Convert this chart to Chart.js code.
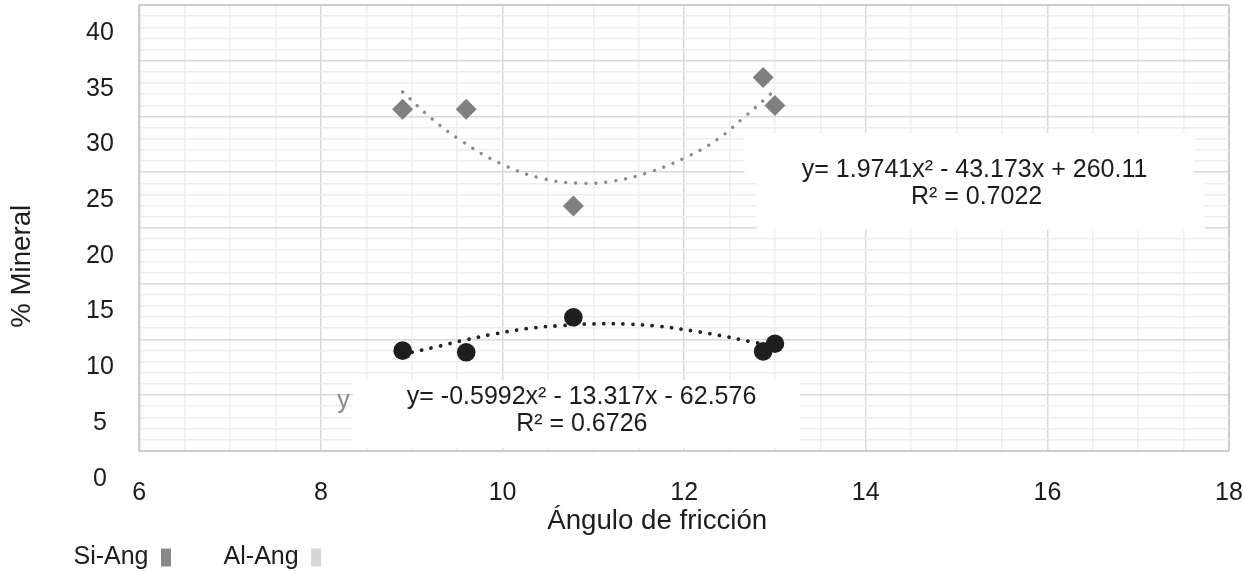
<!DOCTYPE html>
<html>
<head>
<meta charset="utf-8">
<script src="https://cdn.jsdelivr.net/npm/chart.js@4/dist/chart.umd.min.js"></script>
<style>
html,body{margin:0;padding:0;background:#ffffff;}
#wrap{width:1244px;height:571px;position:relative;}
</style>
</head>
<body>
<div id="wrap"><canvas id="c" width="1244" height="571"></canvas></div>
<script>
// ---------- data ----------
const seriesNames = ['Si-Ang', 'Al-Ang'];

const siAngX = [8.9, 9.6, 10.78, 12.87, 13.0];
const siAngY = [30.65, 30.65, 21.97, 33.5, 30.97];

const alAngX = [8.9, 9.6, 10.78, 12.87, 13.0];
const alAngY = [8.98, 8.83, 11.97, 8.91, 9.6];

// dotted polynomial trend lines
const siTrendX = [8.9, 9.22, 9.53, 9.97, 10.45, 10.89, 11.22, 11.62, 12.01, 12.36, 12.67, 12.91, 13.0];
const siTrendY = [32.2, 29.8, 27.9, 25.8, 24.4, 24.0, 24.2, 25.0, 26.3, 27.9, 30.0, 31.7, 32.4];

const alTrendX = [8.9, 9.31, 9.6, 9.9, 10.26, 10.63, 11.0, 11.36, 11.73, 12.1, 12.39, 12.72, 12.95];
const alTrendY = [8.65, 9.4, 9.96, 10.46, 10.95, 11.22, 11.38, 11.37, 11.16, 10.75, 10.35, 9.81, 9.5];

const xTickLabels = [6, 8, 10, 12, 14, 16, 18];
const yTickLabels = [0, 5, 10, 15, 20, 25, 30, 35, 40];

const eqSi = ['y= 1.9741x\u00B2 - 43.173x + 260.11', 'R\u00B2 = 0.7022'];
const eqAl = ['y= -0.5992x\u00B2 - 13.317x - 62.576', 'R\u00B2 = 0.6726'];
const strayLabel = 'y';

const xTitle = '\u00C1ngulo de fricci\u00F3n';
const yTitle = '% Mineral';

// ---------- helpers / styles ----------
const FONT = '"Liberation Sans", Arial, Helvetica, sans-serif';
const TXT = '#1c1c1c';
const GRID_MAJOR = '#d9d9d9';
const GRID_MINOR = '#eeeeee';
const BORDER = '#cdcdcd';

const toPts = (xs, ys) => xs.map((v, i) => ({x: v, y: ys[i]}));

// label boxes in data units: [xMin, xMax, yMin, yMax]
const whiteBoxes = [
  [12.666, 17.611, 24.02, 28.51],
  [12.798, 17.732, 19.81, 24.03],
  [8.352, 13.272, 0.25, 6.345]
];
const labelTexts = [
  {t: eqSi[0], x: 15.198, y: 25.19, c: TXT},
  {t: eqSi[1], x: 15.22, y: 22.77, c: TXT},
  {t: eqAl[0], x: 10.87, y: 4.82, c: TXT},
  {t: eqAl[1], x: 10.873, y: 2.40, c: TXT},
  {t: strayLabel, x: 8.248, y: 4.46, c: '#8a8a8a'}
];

const eqPlugin = {
  id: 'eqLabels',
  beforeDatasetsDraw(chart) {
    const {ctx} = chart;
    const xs = chart.scales.x, ys = chart.scales.y;
    ctx.save();
    ctx.fillStyle = '#ffffff';
    whiteBoxes.forEach(b => {
      const x0 = xs.getPixelForValue(b[0]), x1 = xs.getPixelForValue(b[1]);
      const y0 = ys.getPixelForValue(b[2]), y1 = ys.getPixelForValue(b[3]);
      ctx.fillRect(x0, y1, x1 - x0, y0 - y1);
    });
    ctx.font = '25px ' + FONT;
    ctx.textAlign = 'center';
    ctx.textBaseline = 'middle';
    labelTexts.forEach(l => {
      ctx.fillStyle = l.c;
      ctx.fillText(l.t, xs.getPixelForValue(l.x), ys.getPixelForValue(l.y));
    });
    ctx.restore();
  }
};

const isMajorX = v => xTickLabels.includes(v);
const isMajorY = v => yTickLabels.includes(v);

new Chart(document.getElementById('c'), {
  type: 'scatter',
  data: {
    datasets: [
      {
        label: seriesNames[0],
        data: toPts(siAngX, siAngY),
        pointStyle: 'rectRot',
        pointRadius: 10.5,
        pointHoverRadius: 10.5,
        backgroundColor: '#808080',
        borderWidth: 0,
        showLine: false
      },
      {
        label: seriesNames[1],
        data: toPts(alAngX, alAngY),
        pointStyle: 'circle',
        pointRadius: 9.3,
        pointHoverRadius: 9.3,
        backgroundColor: '#1e1e1e',
        borderWidth: 0,
        showLine: false
      },
      {
        label: 'trend-si',
        data: toPts(siTrendX, siTrendY),
        showLine: true,
        pointRadius: 0,
        borderColor: '#8a8a8a',
        borderWidth: 3.4,
        borderDash: [0.01, 10],
        borderCapStyle: 'round',
        tension: 0.4,
        fill: false
      },
      {
        label: 'trend-al',
        data: toPts(alTrendX, alTrendY),
        showLine: true,
        pointRadius: 0,
        borderColor: '#222222',
        borderWidth: 3.8,
        borderDash: [0.01, 9.7],
        borderCapStyle: 'round',
        tension: 0.4,
        fill: false
      }
    ]
  },
  options: {
    responsive: false,
    maintainAspectRatio: false,
    devicePixelRatio: 1,
    animation: false,
    events: [],
    layout: {autoPadding: false, padding: {left: 0, right: 15, top: 5, bottom: -9}},
    scales: {
      x: {
        type: 'linear',
        min: 6, max: 18,
        afterFit: s => { s.height = 90.3; s.paddingLeft = 0; s.paddingRight = 0; },
        border: {color: BORDER, width: 2},
        grid: {
          drawTicks: false,
          color: c => (c.tick && c.tick.value === 18) ? BORDER : (c.tick && isMajorX(c.tick.value) ? GRID_MAJOR : GRID_MINOR),
          lineWidth: c => (c.tick && c.tick.value === 18) ? 2 : 1.5
        },
        ticks: {
          stepSize: 0.5,
          autoSkip: false,
          maxRotation: 0,
          padding: 27.3,
          labelOffset: 0,
          color: TXT,
          font: {family: FONT, size: 25},
          callback: v => isMajorX(v) ? String(v) : ''
        },
        title: {
          display: true,
          text: xTitle + '       ',
          color: TXT,
          font: {family: FONT, size: 27.7},
          padding: {top: 0, bottom: 3}
        }
      },
      y: {
        type: 'linear',
        min: 0, max: 40,
        afterFit: s => { s.width = 139.3; s.paddingTop = 0; s.paddingBottom = 0; },
        border: {color: BORDER, width: 2},
        grid: {
          drawTicks: false,
          color: c => (c.tick && c.tick.value === 40) ? BORDER : (c.tick && isMajorY(c.tick.value) ? GRID_MAJOR : GRID_MINOR),
          lineWidth: c => (c.tick && c.tick.value === 40) ? 2 : 1.5
        },
        ticks: {
          stepSize: 1,
          autoSkip: false,
          padding: 25.4,
          crossAlign: 'center',
          labelOffset: 28,
          color: TXT,
          font: {family: FONT, size: 25},
          callback: v => isMajorY(v) ? String(v) : ''
        },
        title: {
          display: true,
          text: yTitle + '          ',
          color: TXT,
          font: {family: FONT, size: 27.7},
          padding: {top: 5.4, bottom: 0}
        }
      }
    },
    plugins: {
      tooltip: {enabled: false},
      legend: {
        display: true,
        position: 'bottom',
        align: 'end',
        rtl: true,
        textDirection: 'ltr',
        labels: {
          font: {family: FONT, size: 25},
          color: TXT,
          boxWidth: 10,
          boxHeight: 18,
          padding: 4,
          generateLabels: () => [
            {text: '       ' + seriesNames[1], fillStyle: '#d6d6d6', strokeStyle: 'rgba(0,0,0,0)', lineWidth: 0, fontColor: TXT, hidden: false, datasetIndex: 1},
            {text: '          ' + seriesNames[0], fillStyle: '#8a8a8a', strokeStyle: 'rgba(0,0,0,0)', lineWidth: 0, fontColor: TXT, hidden: false, datasetIndex: 0}
          ]
        }
      }
    }
  },
  plugins: [eqPlugin]
});
</script>
</body>
</html>
